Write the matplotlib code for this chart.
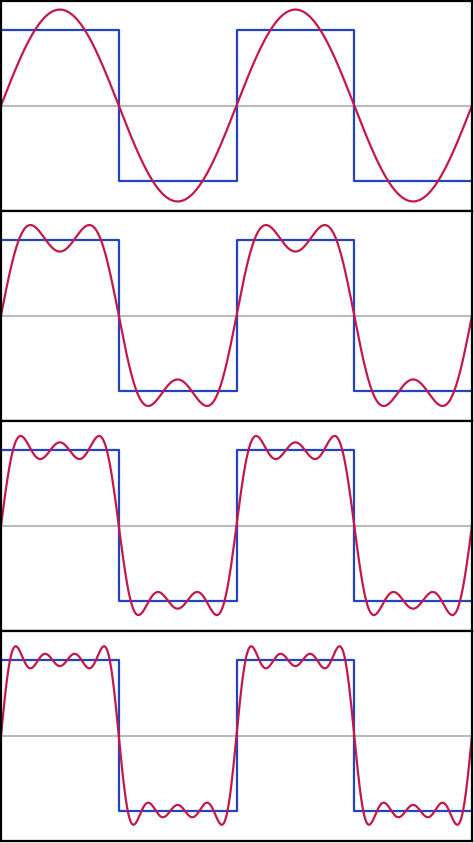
import numpy as np
import matplotlib
matplotlib.use("Agg")
import matplotlib.pyplot as plt

# Fourier coefficients of the square wave (odd harmonics, amplitude 4/(pi n))
harmonics = [1, 3, 5, 7]
amplitudes = [1.2732, 0.4244, 0.2546, 0.1819]

# square wave over two periods (x in periods)
square_x = [0.0, 0.5, 0.5, 1.0, 1.0, 1.5, 1.5, 2.0]
square_y = [1, 1, -1, -1, 1, 1, -1, -1]

blue = "#2443c0"
red = "#c2184a"

fig = plt.figure(figsize=(4.74, 8.43), dpi=100)
W, H = 474, 843
panel_h = 210
x = np.linspace(0, 2, 2000)

for i in range(4):
    top = 1 + panel_h * i
    ax = fig.add_axes([1 / W, 1 - (top + panel_h) / H, 471 / W, panel_h / H])
    y = np.zeros_like(x)
    for n, a in zip(harmonics[: i + 1], amplitudes[: i + 1]):
        y += a * np.sin(2 * np.pi * n * x)
    ax.axhline(0, color="#bbbbbb", lw=1.5)
    ax.plot(square_x, square_y, color=blue, lw=1.6)
    ax.plot(x, y, color=red, lw=1.6)
    ax.set_xlim(0, 2)
    ax.set_ylim(-1.4, 1.387)
    ax.set_xticks([])
    ax.set_yticks([])
    for s in ax.spines.values():
        s.set_linewidth(1.6)
        s.set_color("black")

fig.savefig("out.png", dpi=100)
